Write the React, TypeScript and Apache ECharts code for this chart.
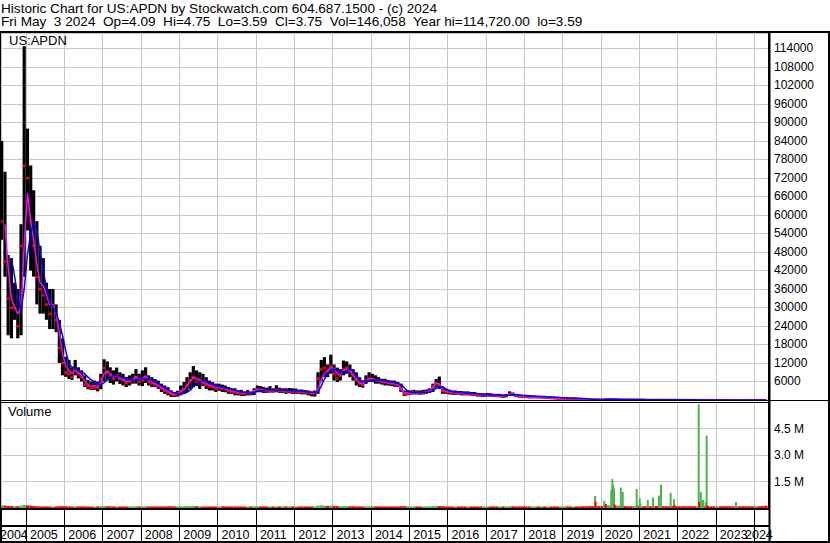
import React, { useEffect, useRef } from "react";
import * as echarts from "echarts";

// ---- data (monthly, starting May 2004) ----
const FIRST_YEAR = 2004;
const FIRST_MONTH = 5;

const hi: number[] = [
  84000, 74000, 47000, 46000, 38000, 36000, 57000, 114720,
  88000, 76000, 68000, 58000, 50000, 46000, 38000, 36000, 36000, 31000, 26000, 20000,
  14000, 13000, 10500, 13000, 10600, 9600, 8000, 6500, 6000, 6300, 6000, 8500,
  13200, 12500, 10600, 9600, 10500, 9000, 8500, 7500, 8000, 8500, 10000, 8500,
  9600, 10600, 8000, 7400, 6800, 6300, 5300, 4700, 4200, 3100, 2600, 3000,
  4700, 5800, 7400, 9000, 11000, 9600, 9000, 8500, 7400, 6300, 5800, 5300,
  5300, 5000, 4700, 4200, 3800, 3800, 3200, 3300, 2800, 3200, 2800, 3800,
  4700, 4500, 4200, 4000, 4500, 3800, 4800, 4000, 3800, 3800, 3900, 3800,
  3700, 3400, 3400, 3200, 3100, 2800, 3100, 9000, 13000, 13900, 11500, 14700,
  11500, 10500, 10000, 12800, 12500, 11500, 10000, 9000, 7400, 6300, 8000, 9000,
  8500, 8000, 7400, 6900, 6900, 6500, 6300, 6300, 5800, 5300, 3100, 3100,
  3100, 3300, 3100, 3100, 3300, 3400, 3800, 5300, 6800, 7600, 4200, 3700,
  3400, 3100, 3100, 2900, 2900, 2800, 2800, 2600, 2600, 2300, 2200, 2200,
  2300, 2200, 2000, 2000, 2000, 1800, 2000, 2800, 2400, 2000, 1800, 1700,
  1700, 1600, 1500, 1400, 1300, 1300, 1200, 1200, 1100, 1100, 1000, 900,
  900, 850, 800, 800, 750, 700, 500, 450, 400, 380, 350, 330,
  300, 400, 500, 450, 350, 300, 300, 280, 250, 250, 240, 230,
  250, 240, 220, 200, 190, 180, 200, 180, 170, 160, 150, 140,
  130, 120, 110, 100, 90, 80, 120, 90, 70, 60, 55, 50,
  45, 40, 38, 35, 30, 28, 30, 25, 20, 18, 15, 14,
  12, 10, 8, 6,
];

const lo: number[] = [
  52000, 40000, 21000, 20000, 26000, 20000, 21000, 40000,
  55000, 42000, 40000, 31000, 28000, 28000, 26000, 23000, 23000, 22000, 12000, 8000,
  7500, 6800, 6500, 8000, 7000, 6000, 4200, 3500, 3200, 3300, 2800, 3500,
  6000, 6500, 5500, 5000, 6000, 5200, 4700, 4200, 4700, 5300, 5300, 4700,
  4500, 5500, 4700, 4200, 4200, 3600, 2600, 2000, 1500, 1000, 1000, 1100,
  1500, 2000, 2600, 3500, 4200, 4500, 3600, 4500, 3600, 3100, 3100, 2600,
  3000, 2600, 2500, 2000, 2000, 1500, 1500, 1300, 1300, 1500, 1500, 1600,
  2500, 2500, 2300, 2300, 2400, 2400, 2500, 2300, 2300, 2000, 2200, 2000,
  2000, 2000, 1800, 1800, 1500, 1200, 1100, 2000, 6000, 7400, 7400, 8500,
  6300, 5800, 6300, 8000, 8500, 7400, 6300, 4700, 4200, 4000, 5200, 5800,
  5800, 5300, 5300, 5000, 4700, 4700, 4500, 4300, 4200, 2600, 1300, 1500,
  1700, 1800, 1800, 1700, 1800, 2000, 2300, 2600, 4000, 3600, 2000, 2000,
  1800, 1700, 1700, 1700, 1500, 1500, 1500, 1400, 1300, 1100, 950, 1000,
  1100, 1100, 950, 950, 900, 700, 900, 1300, 1300, 950, 800, 800,
  700, 600, 600, 600, 600, 600, 500, 500, 400, 400, 300, 300,
  300, 300, 280, 280, 250, 250, 100, 100, 90, 80, 80, 70,
  60, 70, 100, 100, 80, 70, 70, 60, 60, 50, 50, 50,
  50, 50, 45, 45, 40, 40, 40, 38, 35, 33, 30, 30,
  28, 26, 24, 22, 20, 18, 18, 16, 14, 12, 10, 9,
  8, 8, 7, 7, 6, 6, 6, 5, 5, 4, 4, 3.5,
  3.2, 3, 3, 3.5,
];

const cl: number[] = [
  58000, 45000, 33000, 30000, 30000, 24000, 50000, 76000,
  72000, 58000, 50000, 40000, 36000, 34000, 31000, 28000, 30000, 26000, 17000, 12000,
  9000, 8500, 7500, 10000, 8500, 7500, 5000, 4500, 4000, 4200, 4000, 7000,
  10500, 9000, 8000, 7000, 8000, 7000, 6500, 5500, 6000, 6500, 7500, 6000,
  6500, 7500, 6000, 5500, 5000, 4500, 3800, 3000, 2500, 2000, 1800, 2200,
  3000, 3500, 5000, 6500, 7500, 6000, 6500, 5500, 5000, 4500, 4200, 3800,
  4000, 3800, 3600, 3000, 2800, 2500, 2300, 2200, 2000, 2300, 2200, 3000,
  3500, 3300, 3200, 3000, 3100, 3000, 3200, 3000, 3000, 2800, 2900, 2700,
  2800, 2700, 2600, 2500, 2400, 2200, 2300, 7000, 10000, 10500, 9500, 11000,
  8500, 7000, 8000, 10000, 10500, 9500, 8000, 6500, 5500, 5000, 6500, 7000,
  7000, 6500, 6300, 6000, 5800, 5600, 5400, 5200, 5000, 3500, 2000, 2200,
  2300, 2500, 2400, 2300, 2500, 2600, 3000, 4500, 5500, 5000, 3000, 2800,
  2600, 2400, 2400, 2300, 2200, 2100, 2100, 2000, 1900, 1700, 1500, 1600,
  1700, 1600, 1500, 1400, 1400, 1200, 1400, 2000, 1900, 1500, 1300, 1200,
  1100, 1000, 1000, 1000, 900, 900, 800, 800, 700, 600, 500, 500,
  500, 480, 450, 450, 420, 400, 250, 220, 200, 180, 170, 160,
  150, 250, 300, 250, 200, 180, 170, 150, 140, 130, 130, 120,
  120, 110, 100, 95, 90, 85, 90, 85, 80, 75, 70, 65,
  60, 55, 50, 45, 40, 35, 40, 35, 30, 25, 22, 20,
  20, 18, 17, 15, 13, 12, 12, 10, 9, 8, 7, 6,
  6, 5, 4, 3.75,
];

const maFast: (number | null)[] = [
  null, 57000, 43000, 33000, 30000, 28000, 30000, 50000,
  67000, 58000, 52000, 44000, 38000, 37000, 34000, 31000, 31000, 28000, 22000, 15000,
  11000, 9500, 8500, 9500, 9000, 8000, 6000, 5000, 4500, 4600, 4300, 5500,
  8500, 9500, 8500, 7500, 7800, 7200, 6800, 6000, 6200, 6600, 7500, 6800,
  7000, 7800, 6800, 5800, 5300, 4800, 4000, 3300, 2800, 2200, 1900, 2100,
  2800, 3500, 4600, 6000, 7300, 7000, 6500, 6000, 5400, 4800, 4500, 4200,
  4100, 3900, 3700, 3300, 3000, 2800, 2500, 2400, 2300, 2400, 2400, 2900,
  3400, 3400, 3300, 3200, 3300, 3100, 3300, 3200, 3100, 2900, 3000, 2900,
  2900, 2800, 2700, 2600, 2500, 2300, 2200, 3500, 6500, 8500, 9500, 10500,
  10300, 8500, 8000, 9500, 10000, 9500, 8200, 6800, 5600, 5200, 6300, 6800,
  6900, 6500, 6300, 6100, 5800, 5600, 5400, 5300, 5000, 3900, 2400, 2200,
  2300, 2400, 2400, 2300, 2400, 2600, 2900, 4000, 5500, 5300, 3300, 2800,
  2600, 2400, 2400, 2300, 2200, 2100, 2100, 2000, 1900, 1700, 1500, 1600,
  1700, 1600, 1500, 1400, 1400, 1250, 1400, 2000, 1900, 1500, 1300, 1200,
  1100, 1000, 1000, 1000, 900, 900, 800, 800, 700, 600, 500, 500,
  500, 450, 450, 450, 430, 400, 280, 220, 200, 180, 170, 160,
  150, 220, 280, 260, 210, 180, 170, 155, 140, 130, 125, 120,
  115, 110, 100, 95, 90, 86, 88, 85, 80, 75, 70, 66,
  60, 56, 50, 46, 41, 36, 38, 35, 30, 26, 23, 21,
  20, 18, 17, 15, 13, 12, 12, 10, 9, 8, 7, 6.5,
  6, 5, 4.3, 3.9,
];

const maSlow: (number | null)[] = [
  null, null, null, 46000, 40000, 33000, 29000, 36000,
  47000, 54000, 57500, 55000, 48000, 42000, 36000, 32000, 30000, 28500, 25000, 21000,
  16000, 11700, 10700, 10100, 9600, 9000, 8500, 7400, 6500, 5800, 5300, 4800,
  5600, 6500, 7400, 7900, 7900, 7600, 7200, 6800, 6500, 6400, 6500, 6700,
  6800, 6900, 6800, 6400, 5900, 5300, 4700, 4000, 3300, 2700, 2300, 2100,
  2000, 2100, 2500, 3200, 4300, 5300, 6000, 6300, 6100, 5600, 5000, 4600,
  4300, 4100, 3900, 3700, 3400, 3100, 2800, 2600, 2400, 2300, 2300, 2500,
  2900, 3100, 3200, 3300, 3300, 3200, 3200, 3200, 3200, 3100, 3000, 3000,
  2900, 2900, 2800, 2700, 2600, 2500, 2400, 2600, 4500, 6800, 8500, 9600,
  10000, 9800, 9300, 9000, 9500, 10000, 9500, 8000, 6800, 6000, 6300, 6300,
  6400, 6500, 6400, 6300, 6100, 5900, 5800, 5600, 5400, 5000, 4000, 3000,
  2500, 2400, 2400, 2400, 2400, 2500, 2600, 3000, 3800, 4400, 4300, 3600,
  3000, 2700, 2600, 2500, 2400, 2300, 2200, 2200, 2100, 2000, 1800, 1700,
  1700, 1700, 1600, 1600, 1500, 1400, 1400, 1600, 1700, 1700, 1600, 1500,
  1400, 1300, 1300, 1200, 1200, 1100, 1100, 1000, 1000, 900, 900, 800,
  700, 650, 600, 600, 550, 500, 450, 400, 300, 250, 200, 200,
  180, 190, 220, 240, 230, 210, 190, 175, 160, 150, 140, 135,
  130, 125, 115, 108, 100, 95, 92, 90, 87, 82, 78, 73,
  68, 63, 58, 53, 48, 43, 40, 38, 35, 31, 27, 24,
  22, 20, 19, 17, 15, 14, 13, 12, 11, 9.5, 8.5, 7.5,
  7, 6, 5.2, 4.6,
];

// typical daily volume per month (thousands)
const volK: number[] = [
  160, 140, 120, 110, 100, 100, 130, 170,
  150, 130, 110, 100, 90, 90, 90, 90, 90, 90, 100, 100,
  100, 90, 90, 100, 90, 90, 90, 90, 90, 90, 90, 100,
  110, 100, 90, 90, 90, 90, 90, 90, 90, 90, 100, 90,
  90, 100, 90, 90, 90, 90, 90, 90, 100, 100, 90, 90,
  100, 100, 110, 110, 120, 100, 100, 90, 90, 90, 90, 90,
  90, 90, 90, 90, 90, 90, 90, 90, 90, 90, 90, 100,
  100, 90, 90, 90, 90, 90, 90, 90, 90, 90, 90, 90,
  90, 90, 90, 90, 90, 90, 90, 140, 150, 130, 120, 130,
  120, 110, 100, 110, 110, 100, 100, 90, 90, 90, 100, 100,
  100, 90, 90, 90, 90, 90, 90, 90, 90, 100, 110, 100,
  90, 90, 90, 90, 90, 90, 90, 110, 120, 110, 100, 90,
  90, 90, 90, 90, 90, 90, 90, 90, 90, 90, 90, 90,
  90, 90, 90, 90, 90, 90, 90, 100, 100, 90, 90, 90,
  90, 90, 90, 90, 90, 90, 90, 90, 90, 90, 90, 90,
  90, 90, 90, 90, 90, 90, 100, 100, 100, 100, 110, 110,
  120, 130, 150, 140, 120, 120, 110, 110, 100, 100, 110, 120,
  110, 100, 100, 100, 100, 110, 110, 100, 100, 100, 110, 100,
  100, 100, 100, 100, 100, 100, 110, 120, 100, 100, 100, 100,
  100, 100, 100, 100, 100, 100, 110, 100, 100, 100, 100, 100,
  100, 100, 110, 130,
];

// notable single-day volume spikes
const spikeDates: string[] = [
  "2019-11-08", "2019-11-12", "2020-01-28", "2020-02-03", "2020-02-18", "2020-04-10",
  "2020-04-20", "2020-04-28", "2020-05-06", "2020-05-12", "2020-06-12", "2020-07-10",
  "2020-07-28", "2020-12-08", "2021-01-06", "2021-01-12", "2021-03-24", "2021-05-12",
  "2021-07-08", "2021-07-28", "2021-10-28", "2021-11-30", "2021-12-02", "2022-07-22",
  "2022-07-26", "2022-08-12", "2022-09-01", "2022-09-26", "2022-10-06", "2022-10-10",
  "2023-07-12", "2024-04-30",
];
const spikeVols: number[] = [
  680000, 360000, 150000, 400000, 230000, 1030000,
  1640000, 1300000, 1100000, 200000, 120000, 1160000,
  910000, 1080000, 550000, 250000, 450000, 600000,
  700000, 1310000, 850000, 500000, 170000, 5870000,
  350000, 900000, 450000, 350000, 4100000, 150000,
  350000, 120000,
];
const spikeUp: number[] = [
  1, 0, 1, 1, 0, 1,
  1, 1, 1, 0, 1, 1,
  1, 1, 1, 1, 1, 1,
  1, 1, 1, 1, 0, 1,
  0, 1, 1, 1, 1, 0,
  1, 0,
];

const TITLE1 = "Historic Chart for US:APDN by Stockwatch.com 604.687.1500 - (c) 2024";
const TITLE2 =
  "Fri May  3 2024  Op=4.09  Hi=4.75  Lo=3.59  Cl=3.75  Vol=146,058  Year hi=114,720.00  lo=3.59";

// ---- helpers ----
const FONT = '"Liberation Sans", Arial, sans-serif';
const monthTime = (i: number) => {
  const m = FIRST_MONTH - 1 + i;
  return new Date(FIRST_YEAR + Math.floor(m / 12), m % 12, 15).getTime();
};
const parseDay = (s: string) => {
  const [y, m, d] = s.split("-").map(Number);
  return new Date(y, m - 1, d).getTime();
};
const T_MIN = new Date(2004, 4, 8).getTime();
const T_MAX = new Date(2024, 4, 22).getTime();
const YEAR_MS = 365 * 24 * 3600 * 1000;

function buildOption() {
  const priceData = hi.map((h, i) => [monthTime(i), lo[i], h, cl[i]]);
  const fastData = maFast.map((v, i) => [monthTime(i), v == null ? "-" : v]);
  const slowData = maSlow.map((v, i) => [monthTime(i), v == null ? "-" : v]);
  const baseVol = volK.map((v, i) => [monthTime(i), v * 1000, i === 0 || cl[i] >= cl[i - 1] ? 1 : 0, 3.2]);
  const spikeVol = spikeDates.map((d, i) => [parseDay(d), spikeVols[i], spikeUp[i], 2]);
  const volData = [...baseVol, ...spikeVol];

  const gray = "#c8c8c8";
  const timeAxisBase = {
    type: "time" as const,
    min: T_MIN,
    max: T_MAX,
    minInterval: YEAR_MS,
    maxInterval: YEAR_MS + 2 * 24 * 3600 * 1000,
    axisTick: { show: false },
  };
  const yearFmt = (value: number) => {
    const d = new Date(value);
    if (d.getMonth() === 0 && d.getDate() === 1 && d.getFullYear() < 2024) return String(d.getFullYear());
    return "";
  };

  const rect = (x: number, y: number, w: number, h: number) => ({
    type: "rect",
    shape: { x, y, width: w, height: h },
    style: { fill: "#000" },
    z: 100,
    silent: true,
  });
  const text = (t: string, x: number, y: number, size: number) => ({
    type: "text",
    x,
    y,
    style: { text: t, font: `${size}px ${FONT}`, fill: "#000" },
    z: 101,
    silent: true,
  });

  return {
    animation: false,
    backgroundColor: "#fff",
    textStyle: { fontFamily: FONT },
    grid: [
      { left: 1, top: 33, width: 768, height: 367 },
      { left: 1, top: 402, width: 768, height: 106 },
      { left: 1, top: 509, width: 768, height: 17 },
      { left: 1, top: 526, width: 768, height: 16 },
    ],
    xAxis: [
      {
        ...timeAxisBase,
        gridIndex: 0,
        axisLine: { show: true, lineStyle: { color: "#000", width: 1 } },
        axisLabel: { show: false },
        splitLine: { show: true, lineStyle: { color: gray, width: 1 } },
      },
      {
        ...timeAxisBase,
        gridIndex: 1,
        axisLine: { show: false },
        axisLabel: { show: false },
        splitLine: { show: true, lineStyle: { color: gray, width: 1 } },
      },
      {
        ...timeAxisBase,
        gridIndex: 2,
        axisLine: { show: true, lineStyle: { color: "#000", width: 2 } },
        axisLabel: {
          show: true,
          margin: 2,
          align: "left",
          padding: [0, 0, 0, 4],
          fontSize: 12.5,
          fontFamily: FONT,
          color: "#000",
          formatter: yearFmt,
          hideOverlap: false,
        },
        splitLine: { show: true, lineStyle: { color: "#000", width: 1 } },
      },
      {
        ...timeAxisBase,
        gridIndex: 3,
        axisLine: { show: true, lineStyle: { color: "#000", width: 2 } },
        axisLabel: { show: false },
        splitLine: { show: true, lineStyle: { color: "#000", width: 1 } },
      },
    ],
    yAxis: [
      {
        type: "value",
        gridIndex: 0,
        position: "right",
        min: 0,
        max: 119000,
        interval: 6000,
        axisLine: { show: true, lineStyle: { color: "#000", width: 2 } },
        axisTick: { show: false },
        axisLabel: {
          show: true,
          margin: 5,
          fontSize: 12,
          fontFamily: FONT,
          color: "#000",
          showMinLabel: false,
          showMaxLabel: false,
          formatter: (v: number) => String(v),
        },
        splitLine: { show: true, lineStyle: { color: gray, width: 1 } },
      },
      {
        type: "value",
        gridIndex: 1,
        position: "right",
        min: 0,
        max: 6000000,
        interval: 1500000,
        axisLine: { show: true, lineStyle: { color: "#000", width: 2 } },
        axisTick: { show: false },
        axisLabel: {
          show: true,
          margin: 5,
          fontSize: 12,
          fontFamily: FONT,
          color: "#000",
          showMinLabel: false,
          showMaxLabel: false,
          formatter: (v: number) => (v / 1e6).toFixed(1) + " M",
        },
        splitLine: { show: true, lineStyle: { color: gray, width: 1 } },
      },
      { type: "value", gridIndex: 2, show: false },
      { type: "value", gridIndex: 3, show: false },
    ],
    series: [
      {
        type: "custom",
        name: "price",
        xAxisIndex: 0,
        yAxisIndex: 0,
        clip: true,
        data: priceData,
        renderItem: (_p: any, api: any) => {
          const t = api.value(0);
          const pLo = api.coord([t, api.value(1)]);
          const pHi = api.coord([t, api.value(2)]);
          const pC = api.coord([t, api.value(3)]);
          const w = 3.2;
          return {
            type: "group",
            children: [
              {
                type: "rect",
                shape: { x: pHi[0] - w / 2, y: pHi[1], width: w, height: Math.max(1, pLo[1] - pHi[1]) },
                style: { fill: "#000" },
              },
              {
                type: "rect",
                shape: { x: pC[0] - 1.5, y: pC[1] - 1, width: 3, height: 2.5 },
                style: { fill: "#ff0000" },
              },
            ],
          };
        },
      },
      {
        type: "line",
        name: "fast",
        xAxisIndex: 0,
        yAxisIndex: 0,
        data: fastData,
        showSymbol: false,
        lineStyle: { color: "#ff00ff", width: 1.5 },
        z: 3,
      },
      {
        type: "line",
        name: "slow",
        xAxisIndex: 0,
        yAxisIndex: 0,
        data: slowData,
        showSymbol: false,
        lineStyle: { color: "#0000ff", width: 1.5 },
        z: 4,
      },
      {
        type: "custom",
        name: "volume",
        xAxisIndex: 1,
        yAxisIndex: 1,
        clip: true,
        data: volData,
        renderItem: (_p: any, api: any) => {
          const t = api.value(0);
          const top = api.coord([t, api.value(1)]);
          const base = api.coord([t, 0]);
          const w = api.value(3);
          return {
            type: "rect",
            shape: { x: top[0] - w / 2, y: top[1], width: w, height: Math.max(1, base[1] - top[1]) },
            style: { fill: api.value(2) ? "#4db34d" : "#ff0000" },
          };
        },
      },
    ],
    graphic: {
      elements: [
        text(TITLE1, 1, 1, 13.6),
        text(TITLE2, 1, 14.5, 13.6),
        text("US:APDN", 9, 33.5, 13),
        text("Volume", 8, 405, 13),
        text("2004", 0, 528, 12.5),
        text("2024", 745, 528, 12.5),
        rect(0, 31, 830, 2),
        rect(0, 31, 1, 512),
        rect(828, 31, 2, 512),
        rect(768.5, 31, 2, 512),
        rect(0, 400, 830, 1),
        rect(0, 402, 769, 1),
        rect(0, 508, 769, 2),
        rect(0, 525, 769, 2),
        rect(0, 541, 830, 2),
      ],
    },
  };
}

export default function App() {
  const ref = useRef<HTMLDivElement>(null);
  useEffect(() => {
    if (!ref.current) return;
    const chart = echarts.init(ref.current, null, { renderer: "svg" });
    chart.setOption(buildOption() as any);
    return () => chart.dispose();
  }, []);
  return (
    <div
      ref={ref}
      style={{ position: "absolute", left: 0, top: 0, width: 830, height: 543, background: "#fff" }}
    />
  );
}
